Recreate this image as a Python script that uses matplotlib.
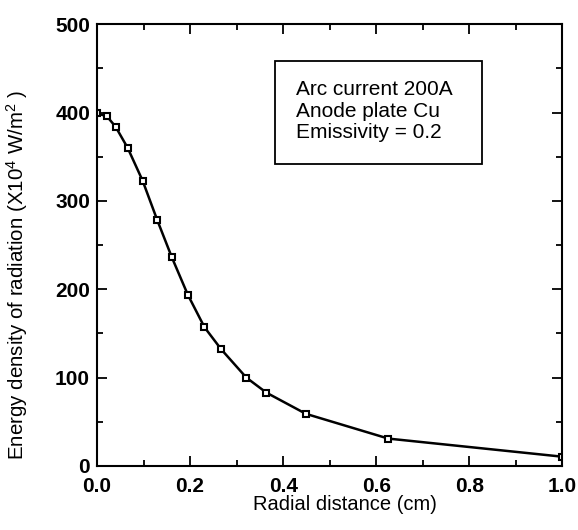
import matplotlib
matplotlib.use('Agg')
from matplotlib import pyplot as plt
from matplotlib.patches import Rectangle
from matplotlib.ticker import MultipleLocator

plt.rcParams['font.family'] = ['Liberation Sans', 'DejaVu Sans']
plt.rcParams['mathtext.default'] = 'regular'

# Datos
distancia = [0.0, 0.021, 0.040, 0.066, 0.098, 0.129, 0.161, 0.195,
             0.231, 0.267, 0.321, 0.364, 0.449, 0.626, 1.0]
energia = [399, 396, 384, 360, 323, 279, 236, 194,
           157, 132, 100, 83, 59, 31, 10.5]

texto_caja = ["Arc current 200A", "Anode plate Cu", "Emissivity = 0.2"]

fig = plt.figure(figsize=(5.78, 5.30), dpi=100)
ax = fig.add_axes([0.1678, 0.1208, 0.8052, 0.8334])

ax.plot(distancia, energia, color='black', linewidth=1.8,
        marker='s', markersize=5, markerfacecolor='white',
        markeredgecolor='black', markeredgewidth=1.5)

ax.set_xlim(0, 1.0)
ax.set_ylim(0, 500)
ax.xaxis.set_major_locator(MultipleLocator(0.2))
ax.xaxis.set_minor_locator(MultipleLocator(0.1))
ax.yaxis.set_major_locator(MultipleLocator(100))
ax.yaxis.set_minor_locator(MultipleLocator(50))
ax.set_xticks([0, 0.2, 0.4, 0.6, 0.8, 1.0])
ax.set_xticklabels(['0.0', '0.2', '0.4', '0.6', '0.8', '1.0'])

ax.tick_params(which='both', direction='in', top=True, right=True,
               width=1.3, labelsize=15)
ax.tick_params(which='major', length=7)
ax.tick_params(which='minor', length=4)
ax.tick_params(axis='x', pad=8)
ax.tick_params(axis='y', pad=5)
for etiqueta in ax.get_xticklabels() + ax.get_yticklabels():
    etiqueta.set_fontweight('bold')

for spine in ax.spines.values():
    spine.set_linewidth(1.5)

ax.set_xlabel("Radial distance (cm)", fontsize=14.5)
ax.set_ylabel("Energy density of radiation (X10$^{4}$ W/m$^{2}$ )", fontsize=14.8)
ax.xaxis.set_label_coords(0.533, -0.066)
ax.yaxis.set_label_coords(-0.145, 0.432)

# Caja con las condiciones
ax.add_patch(Rectangle((0.382, 0.684), 0.445, 0.233, transform=ax.transAxes,
                       fill=False, edgecolor='black', linewidth=1.3))
for i, linea in enumerate(texto_caja):
    ax.text(0.427, 0.840 - i * 0.049, linea, transform=ax.transAxes,
            fontsize=15, va='baseline', ha='left')

plt.savefig('out.png', dpi=100)
